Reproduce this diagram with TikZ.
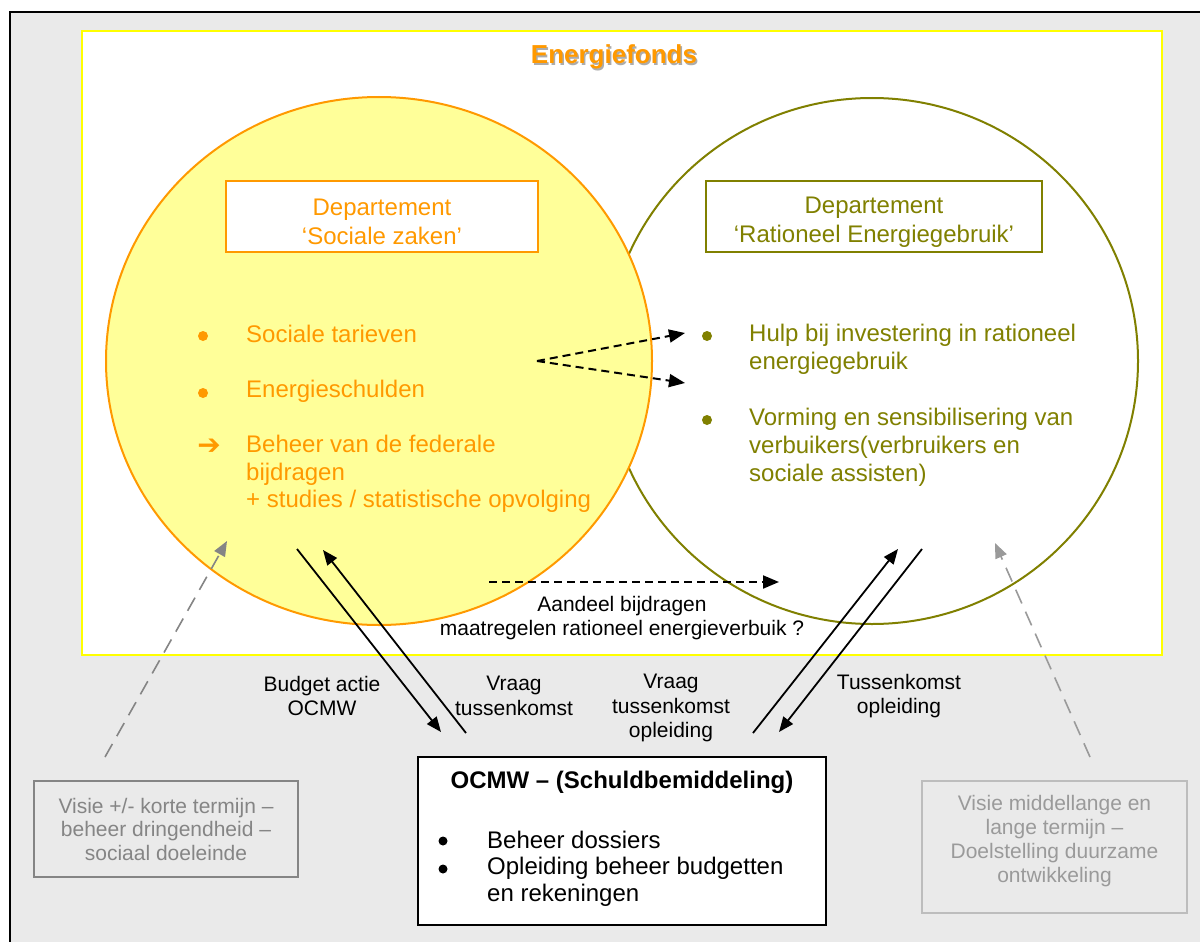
\documentclass[tikz,border=0pt]{standalone}
\usepackage{fontspec}
\setmainfont{Liberation Sans}
\newfontfamily\djv{DejaVu Sans}
\usetikzlibrary{arrows.meta}
\definecolor{orng}{HTML}{FF9900}
\definecolor{lyel}{HTML}{FFFF99}
\definecolor{yline}{HTML}{FFFF00}
\definecolor{olv}{HTML}{808000}
\definecolor{bggray}{HTML}{EAEAEA}
\definecolor{gdark}{HTML}{858585}
\definecolor{glight}{HTML}{BDBDBD}
\definecolor{gtext}{HTML}{9A9A9A}
\tikzset{
  big/.style={font=\fontsize{24}{27.5}\selectfont, inner sep=0pt},
  small/.style={font=\fontsize{21}{24.5}\selectfont, inner sep=0pt},
  deptbox/.style={draw, line width=2.5pt, fill=white, minimum height=71pt, inner sep=0pt},
  dasharrow/.style={black, line width=2pt, dash pattern=on 8pt off 5pt, -{Triangle[length=16pt,width=13pt]}},
  solidarrow/.style={black, line width=1.8pt, -{Triangle[length=15pt,width=12pt]}},
  grayarrow/.style={line width=1.6pt, dash pattern=on 15pt off 9pt, -{Triangle[length=15pt,width=12pt]}},
  graybox/.style={draw, line width=2pt, fill=bggray, inner sep=0pt},
  dot/.style={circle, inner sep=0pt, minimum size=10pt},
}
\begin{document}
\begin{tikzpicture}[x=1pt,y=-1pt]
\useasboundingbox (0,0) rectangle (1200,942);
\fill[bggray] (10,12) rectangle (1200,942);
\draw[line width=2.5pt] (10,942) -- (10,12) -- (1200,12);
\draw[yline, fill=white, line width=2.5pt] (82,31) rectangle (1162,655);

% title
\node[inner sep=0pt, font=\fontsize{26}{30}\selectfont\bfseries, text=gray!65] (titleshadow) at (615.5,58.5) {Energiefonds};
\node[inner sep=0pt, font=\fontsize{26}{30}\selectfont\bfseries, text=orng] (title) at (614,57) {Energiefonds};

% circles
\draw[olv, line width=2pt, fill=white] (872,361) ellipse [x radius=266, y radius=263];
\draw[orng, line width=2pt, fill=lyel] (379,361) ellipse [x radius=273, y radius=264];

% department boxes
\node[deptbox, draw=orng, minimum width=312pt] (lbox) at (382,216.5) {};
\node[big, text=orng, align=center, font=\fontsize{24}{29}\selectfont] (ltxt) at (382,222) {Departement\\‘Sociale zaken’};
\node[deptbox, draw=olv, minimum width=336pt] (rbox) at (874,216.5) {};
\node[big, text=olv, align=center, font=\fontsize{24}{29}\selectfont] (rtxt) at (874,222) {Departement\\‘Rationeel Energiegebruik’};

% left list
\node[dot, fill=orng] (lb1) at (203,336) {};
\node[big, text=orng, anchor=west] (lt1) at (246,334) {Sociale tarieven};
\node[dot, fill=orng] (lb2) at (203,393) {};
\node[big, text=orng, anchor=west] (lt2) at (246,391) {Energieschulden};
\node[text=orng, inner sep=0pt, font=\djv\fontsize{28}{30}\selectfont\bfseries] (lb3) at (209,447) {➔};
\node[big, text=orng, anchor=west, align=left] (lt3) at (246,474) {Beheer van de federale\\bijdragen\\+ studies / statistische opvolging};

% right list
\node[dot, fill=olv] (rb1) at (707,336) {};
\node[big, text=olv, anchor=west, align=left, font=\fontsize{24}{28}\selectfont] (rt1) at (749,349) {Hulp bij investering in rationeel\\energiegebruik};
\node[dot, fill=olv] (rb2) at (707,420) {};
\node[big, text=olv, anchor=west, align=left, font=\fontsize{24}{28}\selectfont] (rt2) at (749,447) {Vorming en sensibilisering van\\verbuikers(verbruikers en\\sociale assisten)};

% dashed arrows
\coordinate (ds) at (537,361);
\coordinate (de1) at (685,333);
\coordinate (de2) at (685,383);
\draw[dasharrow] (ds) -- (de1);
\draw[dasharrow] (ds) -- (de2);
\coordinate (hs) at (489,582);
\coordinate (he) at (779,582);
\draw[dasharrow] (hs) -- (he);
\node[small, align=center] (aandeel) at (622,618) {Aandeel bijdragen\\maatregelen rationeel energieverbuik ?};

% OCMW box
\node[draw, line width=2pt, fill=white, minimum width=408pt, minimum height=168pt, inner sep=0pt] (ocmw) at (622,841) {};
\node[inner sep=0pt, font=\fontsize{24}{27.5}\selectfont\bfseries] (ocmwt) at (622,782) {OCMW – (Schuldbemiddeling)};
\node[dot, fill=black, minimum size=9pt] (ob1) at (443,841) {};
\node[big, anchor=west] (ot1) at (487,840) {Beheer dossiers};
\node[dot, fill=black, minimum size=9pt] (ob2) at (443,869) {};
\node[big, anchor=west, align=left, font=\fontsize{24}{27}\selectfont] (ot2) at (487,882) {Opleiding beheer budgetten\\en rekeningen};

% solid arrows
\coordinate (s1a) at (297,549);
\coordinate (s1b) at (441,732);
\coordinate (s2a) at (466,733);
\coordinate (s2b) at (323,550);
\coordinate (s3a) at (753,733);
\coordinate (s3b) at (898,549);
\coordinate (s4a) at (922,549);
\coordinate (s4b) at (779,732);
\draw[solidarrow] (s1a) -- (s1b);
\draw[solidarrow] (s2a) -- (s2b);
\draw[solidarrow] (s3a) -- (s3b);
\draw[solidarrow] (s4a) -- (s4b);

% labels
\node[small, align=center] (lab1) at (322,696) {Budget actie\\OCMW};
\node[small, align=center] (lab2) at (514,696) {Vraag\\tussenkomst};
\node[small, align=center] (lab3) at (671,708) {Vraag\\tussenkomst\\opleiding};
\node[small, align=center] (lab4) at (899,696) {Tussenkomst\\opleiding};

% gray boxes
\node[graybox, draw=gdark, minimum width=264pt, minimum height=96pt] (gl) at (166,829) {};
\node[small, text=gdark, align=center, font=\fontsize{21}{23.5}\selectfont] (glt) at (166,829) {Visie +/- korte termijn –\\beheer dringendheid –\\sociaal doeleinde};
\node[graybox, draw=glight, minimum width=265pt, minimum height=132pt] (gr) at (1054.5,847) {};
\node[small, text=gtext, align=center, font=\fontsize{21}{24}\selectfont] (grt) at (1054.5,841.5) {Visie middellange en\\lange termijn –\\Doelstelling duurzame\\ontwikkeling};

% gray dashed arrows
\coordinate (g1a) at (105,757);
\coordinate (g1b) at (227,541);
\coordinate (g2a) at (1090,757);
\coordinate (g2b) at (995,543);
\draw[grayarrow, gdark] (g1a) -- (g1b);
\draw[grayarrow, gtext] (g2a) -- (g2b);
\end{tikzpicture}
\end{document}
